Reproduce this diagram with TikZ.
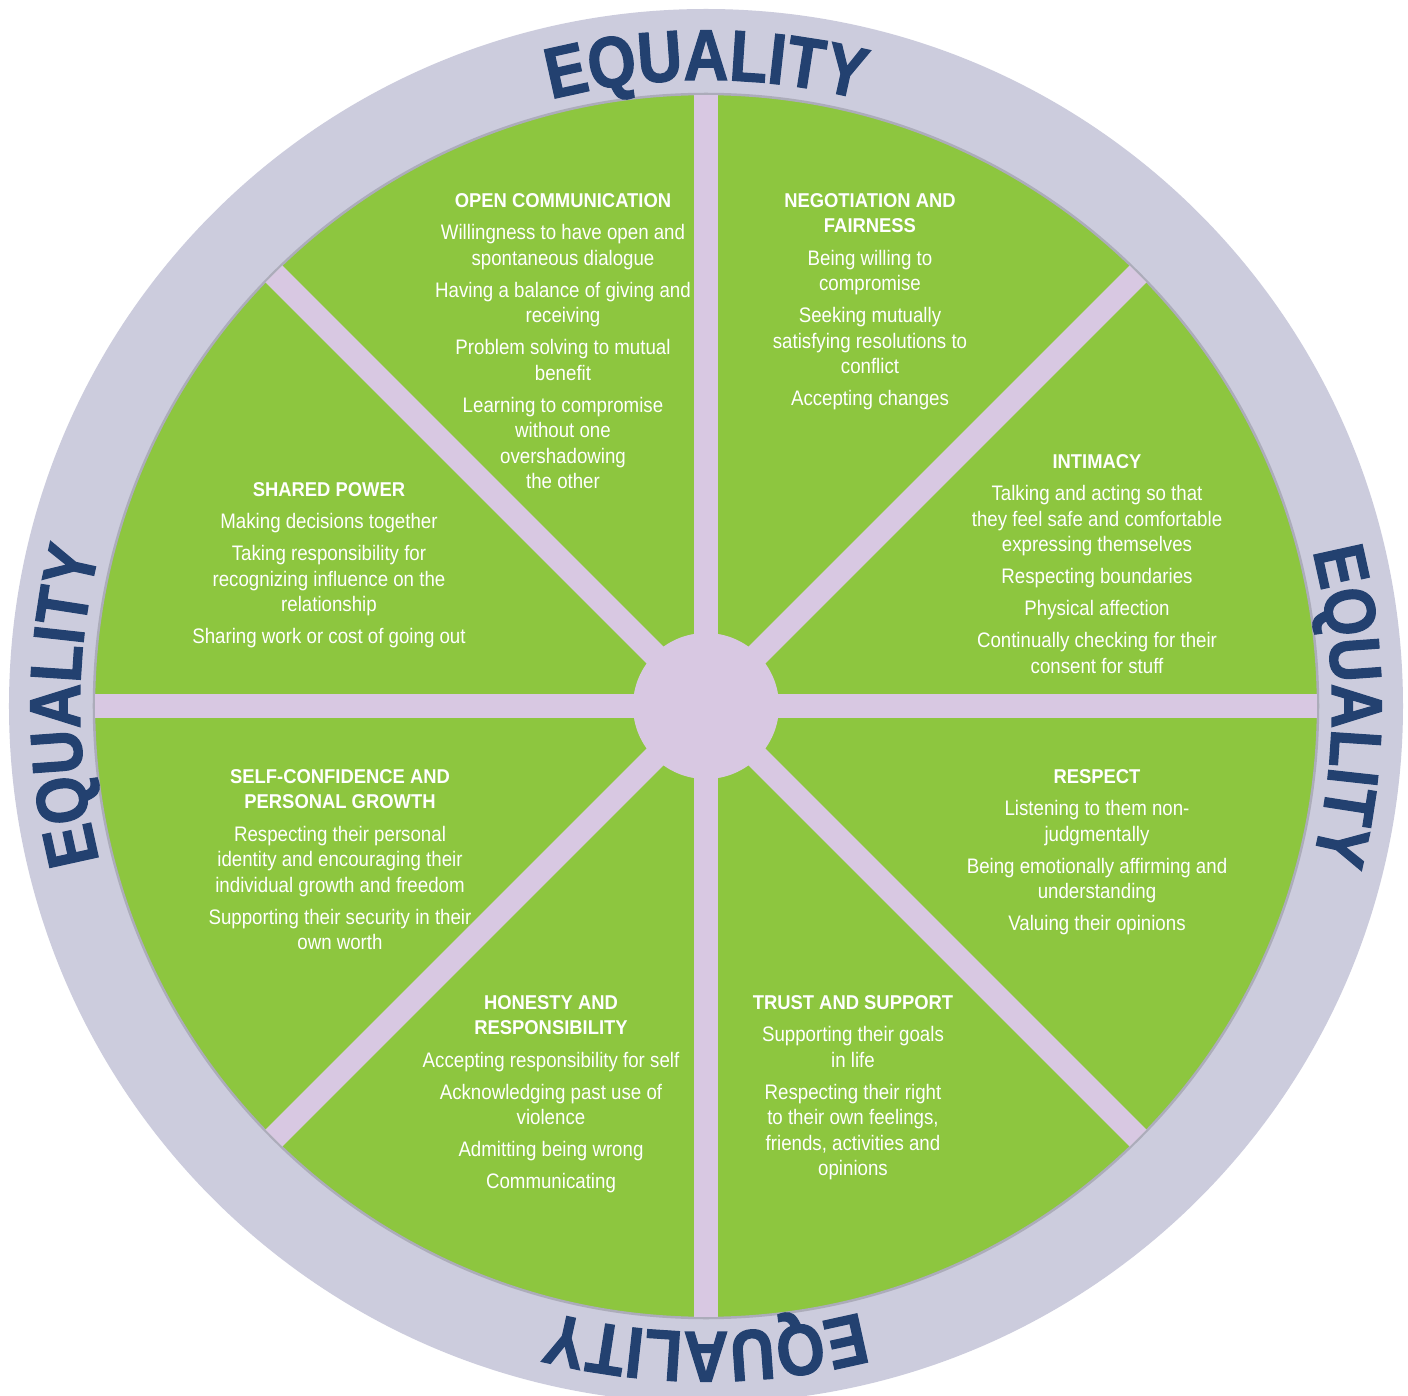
\documentclass[tikz,border=0pt]{standalone}
\usepackage{fontspec}
\setmainfont{Liberation Sans}
\newfontfamily\condfont{Liberation Sans}[FakeStretch=0.89]
\newfontfamily\titlefont{Liberation Sans}[FakeStretch=0.92]
\newfontfamily\eqfont{Liberation Sans}[FakeStretch=0.86, FakeBold=1.6]
\usetikzlibrary{decorations.text}
\definecolor{ringgray}{RGB}{204,204,221}
\definecolor{wheelgreen}{RGB}{141,198,63}
\definecolor{spokelav}{RGB}{216,200,226}
\definecolor{eqblue}{RGB}{35,65,112}
\definecolor{edgegray}{RGB}{172,172,186}
\newcommand{\ttl}[1]{{\titlefont\bfseries\fontsize{20}{25.5}\selectfont #1}}
\begin{document}
\begin{tikzpicture}[x=1pt,y=1pt,
  blk/.style={align=center, text=white, inner sep=0pt, anchor=north,
    font=\condfont\fontsize{21}{25.5}\selectfont},
  spoke/.style={line width=24pt, spokelav},
  eqtext/.style={decorate, decoration={text along path, text align=center,
    text color=eqblue, text={|\eqfont\bfseries\fontsize{72}{72}\selectfont|EQUALITY}}}]
\useasboundingbox (-706,-689) rectangle (702,706);
\clip (-706,-689) rectangle (702,706);
\fill[white] (-706,-689) rectangle (702,706);
% rings
\fill[ringgray] (0,0) circle[radius=697];
\filldraw[fill=wheelgreen, draw=edgegray, line width=2.5pt] (0,0) circle[radius=612];
\foreach \a in {0,45,...,315} \draw[spoke] (0,0) -- (\a:611);
\node[circle, fill=spokelav, minimum size=146pt, inner sep=0pt] (hub) at (0,0) {};
% EQUALITY labels
\path[eqtext] (115:626) arc[start angle=115, end angle=65, radius=626];
\path[eqtext] (25:626) arc[start angle=25, end angle=-25, radius=626];
\path[eqtext] (-65:626) arc[start angle=-65, end angle=-115, radius=626];
\path[eqtext] (205:626) arc[start angle=205, end angle=155, radius=626];
% segments
\node[blk] (open) at (-143,513) {\ttl{OPEN COMMUNICATION}\\[7pt]
Willingness to have open and\\ spontaneous dialogue\\[6.5pt]
Having a balance of giving and\\ receiving\\[6.5pt]
Problem solving to mutual\\ benefit\\[6.5pt]
Learning to compromise\\ without one\\ overshadowing\\ the other};
\node[blk] (nego) at (164,513) {\ttl{NEGOTIATION AND}\\ \ttl{FAIRNESS}\\[7pt]
Being willing to\\ compromise\\[6.5pt]
Seeking mutually\\ satisfying resolutions to\\ conflict\\[6.5pt]
Accepting changes};
\node[blk] (intim) at (391,252) {\ttl{INTIMACY}\\[7pt]
Talking and acting so that\\ they feel safe and comfortable\\ expressing themselves\\[6.5pt]
Respecting boundaries\\[6.5pt]
Physical affection\\[6.5pt]
Continually checking for their\\ consent for stuff};
\node[blk] (resp) at (391,-63) {\ttl{RESPECT}\\[7pt]
Listening to them non-\\ judgmentally\\[6.5pt]
Being emotionally affirming and\\ understanding\\[6.5pt]
Valuing their opinions};
\node[blk] (trust) at (147,-289) {\ttl{TRUST AND SUPPORT}\\[7pt]
Supporting their goals\\ in life\\[6.5pt]
Respecting their right\\ to their own feelings,\\ friends, activities and\\ opinions};
\node[blk] (hon) at (-155,-289) {\ttl{HONESTY AND}\\ \ttl{RESPONSIBILITY}\\[7pt]
Accepting responsibility for self\\[6.5pt]
Acknowledging past use of\\ violence\\[6.5pt]
Admitting being wrong\\[6.5pt]
Communicating};
\node[blk] (self) at (-366,-63) {\ttl{SELF-CONFIDENCE AND}\\ \ttl{PERSONAL GROWTH}\\[7pt]
Respecting their personal\\ identity and encouraging their\\ individual growth and freedom\\[6.5pt]
Supporting their security in their\\ own worth};
\node[blk] (shared) at (-377,224) {\ttl{SHARED POWER}\\[7pt]
Making decisions together\\[6.5pt]
Taking responsibility for\\ recognizing influence on the\\ relationship\\[6.5pt]
Sharing work or cost of going out};
\end{tikzpicture}
\end{document}
